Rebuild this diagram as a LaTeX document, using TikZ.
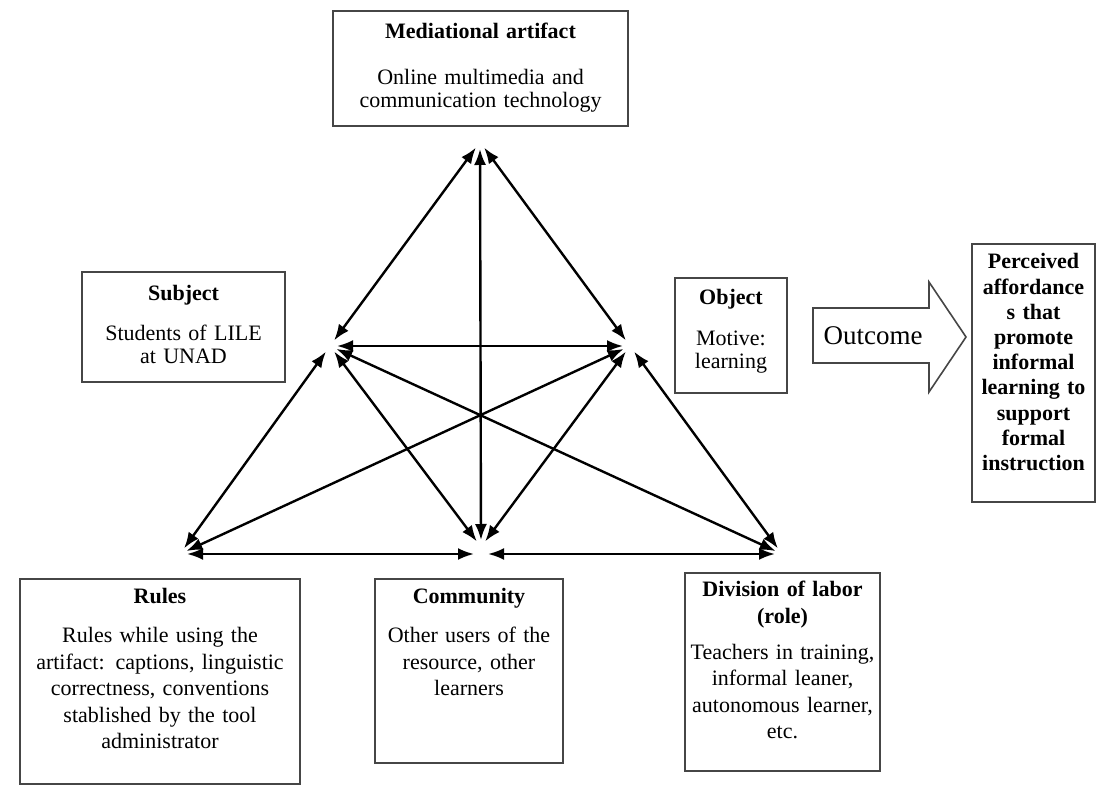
\documentclass[tikz,border=0pt]{standalone}
\usepackage{fontspec}
\setmainfont{Liberation Serif}
\usetikzlibrary{arrows.meta}
\definecolor{frameColor}{RGB}{70,70,70}
\tikzset{element/.style={draw=frameColor, line width=0.9pt, align=center, anchor=north, inner sep=0pt, font=\fontsize{11}{13.25}\selectfont}}
\tikzset{tightelement/.style={element, font=\fontsize{11}{11.25}\selectfont}}
\tikzstyle{arrow} = [line width=1.2pt, {Latex[length=8pt,width=6pt]}-{Latex[length=8pt,width=6pt]}, shorten <=3.5pt, shorten >=3.5pt]

\begin{document}
\begin{tikzpicture}[x=0.5pt, y=-0.5pt]
	\useasboundingbox (0,0) rectangle (1107,785);
	% Nodes
	\node (artifact) [tightelement, text width=147.5pt, text height=14pt, text depth=43.5pt] at (480.5,10) {\textbf{Mediational artifact}\\[11.75pt] Online multimedia and\\ communication technology};
	\node (subject) [tightelement, text width=101.5pt, text height=14.5pt, text depth=40.5pt] at (183.5,271) {\textbf{Subject}\\[8.75pt] Students of LILE\\ at UNAD};
	\node (object) [tightelement, text width=56pt, text height=13.5pt, text depth=44pt] at (731,277) {\textbf{Object}\\[9.25pt] Motive:\\ learning};
	\node (affordance) [element, text width=61.5pt, text height=12.5pt, text depth=116.5pt, font=\fontsize{11}{12.6}\selectfont\bfseries] at (1033.5,243) {Perceived\\ affordance\\ s that\\ promote\\ informal\\ learning to\\ support\\ formal\\ instruction};

	\node (rules) [element, text width=140pt, text height=12.5pt, text depth=90pt] at (160,578) {\textbf{Rules}\\[6.25pt] Rules while using the\\ artifact: captions, linguistic\\ correctness, conventions\\ stablished by the tool\\ administrator};
	\node (community) [element, text width=94pt, text height=12.5pt, text depth=79.5pt] at (469,578) {\textbf{Community}\\[6.25pt] Other users of the\\ resource, other\\ learners};
	\node (division) [element, text width=97.5pt, text height=12pt, text depth=87pt] at (782.5,572) {\textbf{Division of labor}\\ \textbf{(role)}\\[4.75pt] Teachers in training,\\ informal leaner,\\ autonomous learner,\\ etc.};

	% Outcome
	\draw [draw=frameColor, line width=0.8pt] (813,308) -- (929,308) -- (929,282) -- (966,337) -- (929,392) -- (929,363) -- (813,363) -- cycle;
	\node (outcome) [font=\fontsize{13.5}{14}\selectfont] at (873,336) {Outcome};

	% Vertices of the triangle
	\coordinate (vArtifact) at (480,142);
	\coordinate (vSubject) at (330,346);
	\coordinate (vObject) at (630,346);
	\coordinate (vRules) at (180,554);
	\coordinate (vCommunity) at (481,547);
	\coordinate (vDivision) at (782,554);

	% Connectors
	\begin{scope}
		\draw [arrow] (vArtifact) -- (vSubject);
		\draw [arrow] (vArtifact) -- (vObject);
		\draw [arrow] (vArtifact) -- (vCommunity);
		\draw [arrow] (vSubject) -- (vObject);
		\draw [arrow] (vSubject) -- (vRules);
		\draw [arrow] (vSubject) -- (vCommunity);
		\draw [arrow] (vSubject) -- (vDivision);
		\draw [arrow] (vObject) -- (vRules);
		\draw [arrow] (vObject) -- (vCommunity);
		\draw [arrow] (vObject) -- (vDivision);
		\draw [arrow] (vRules) -- (vRules -| vCommunity);
		\draw [arrow] (vDivision -| vCommunity) -- (vDivision);
	\end{scope}
\end{tikzpicture}
\end{document}
